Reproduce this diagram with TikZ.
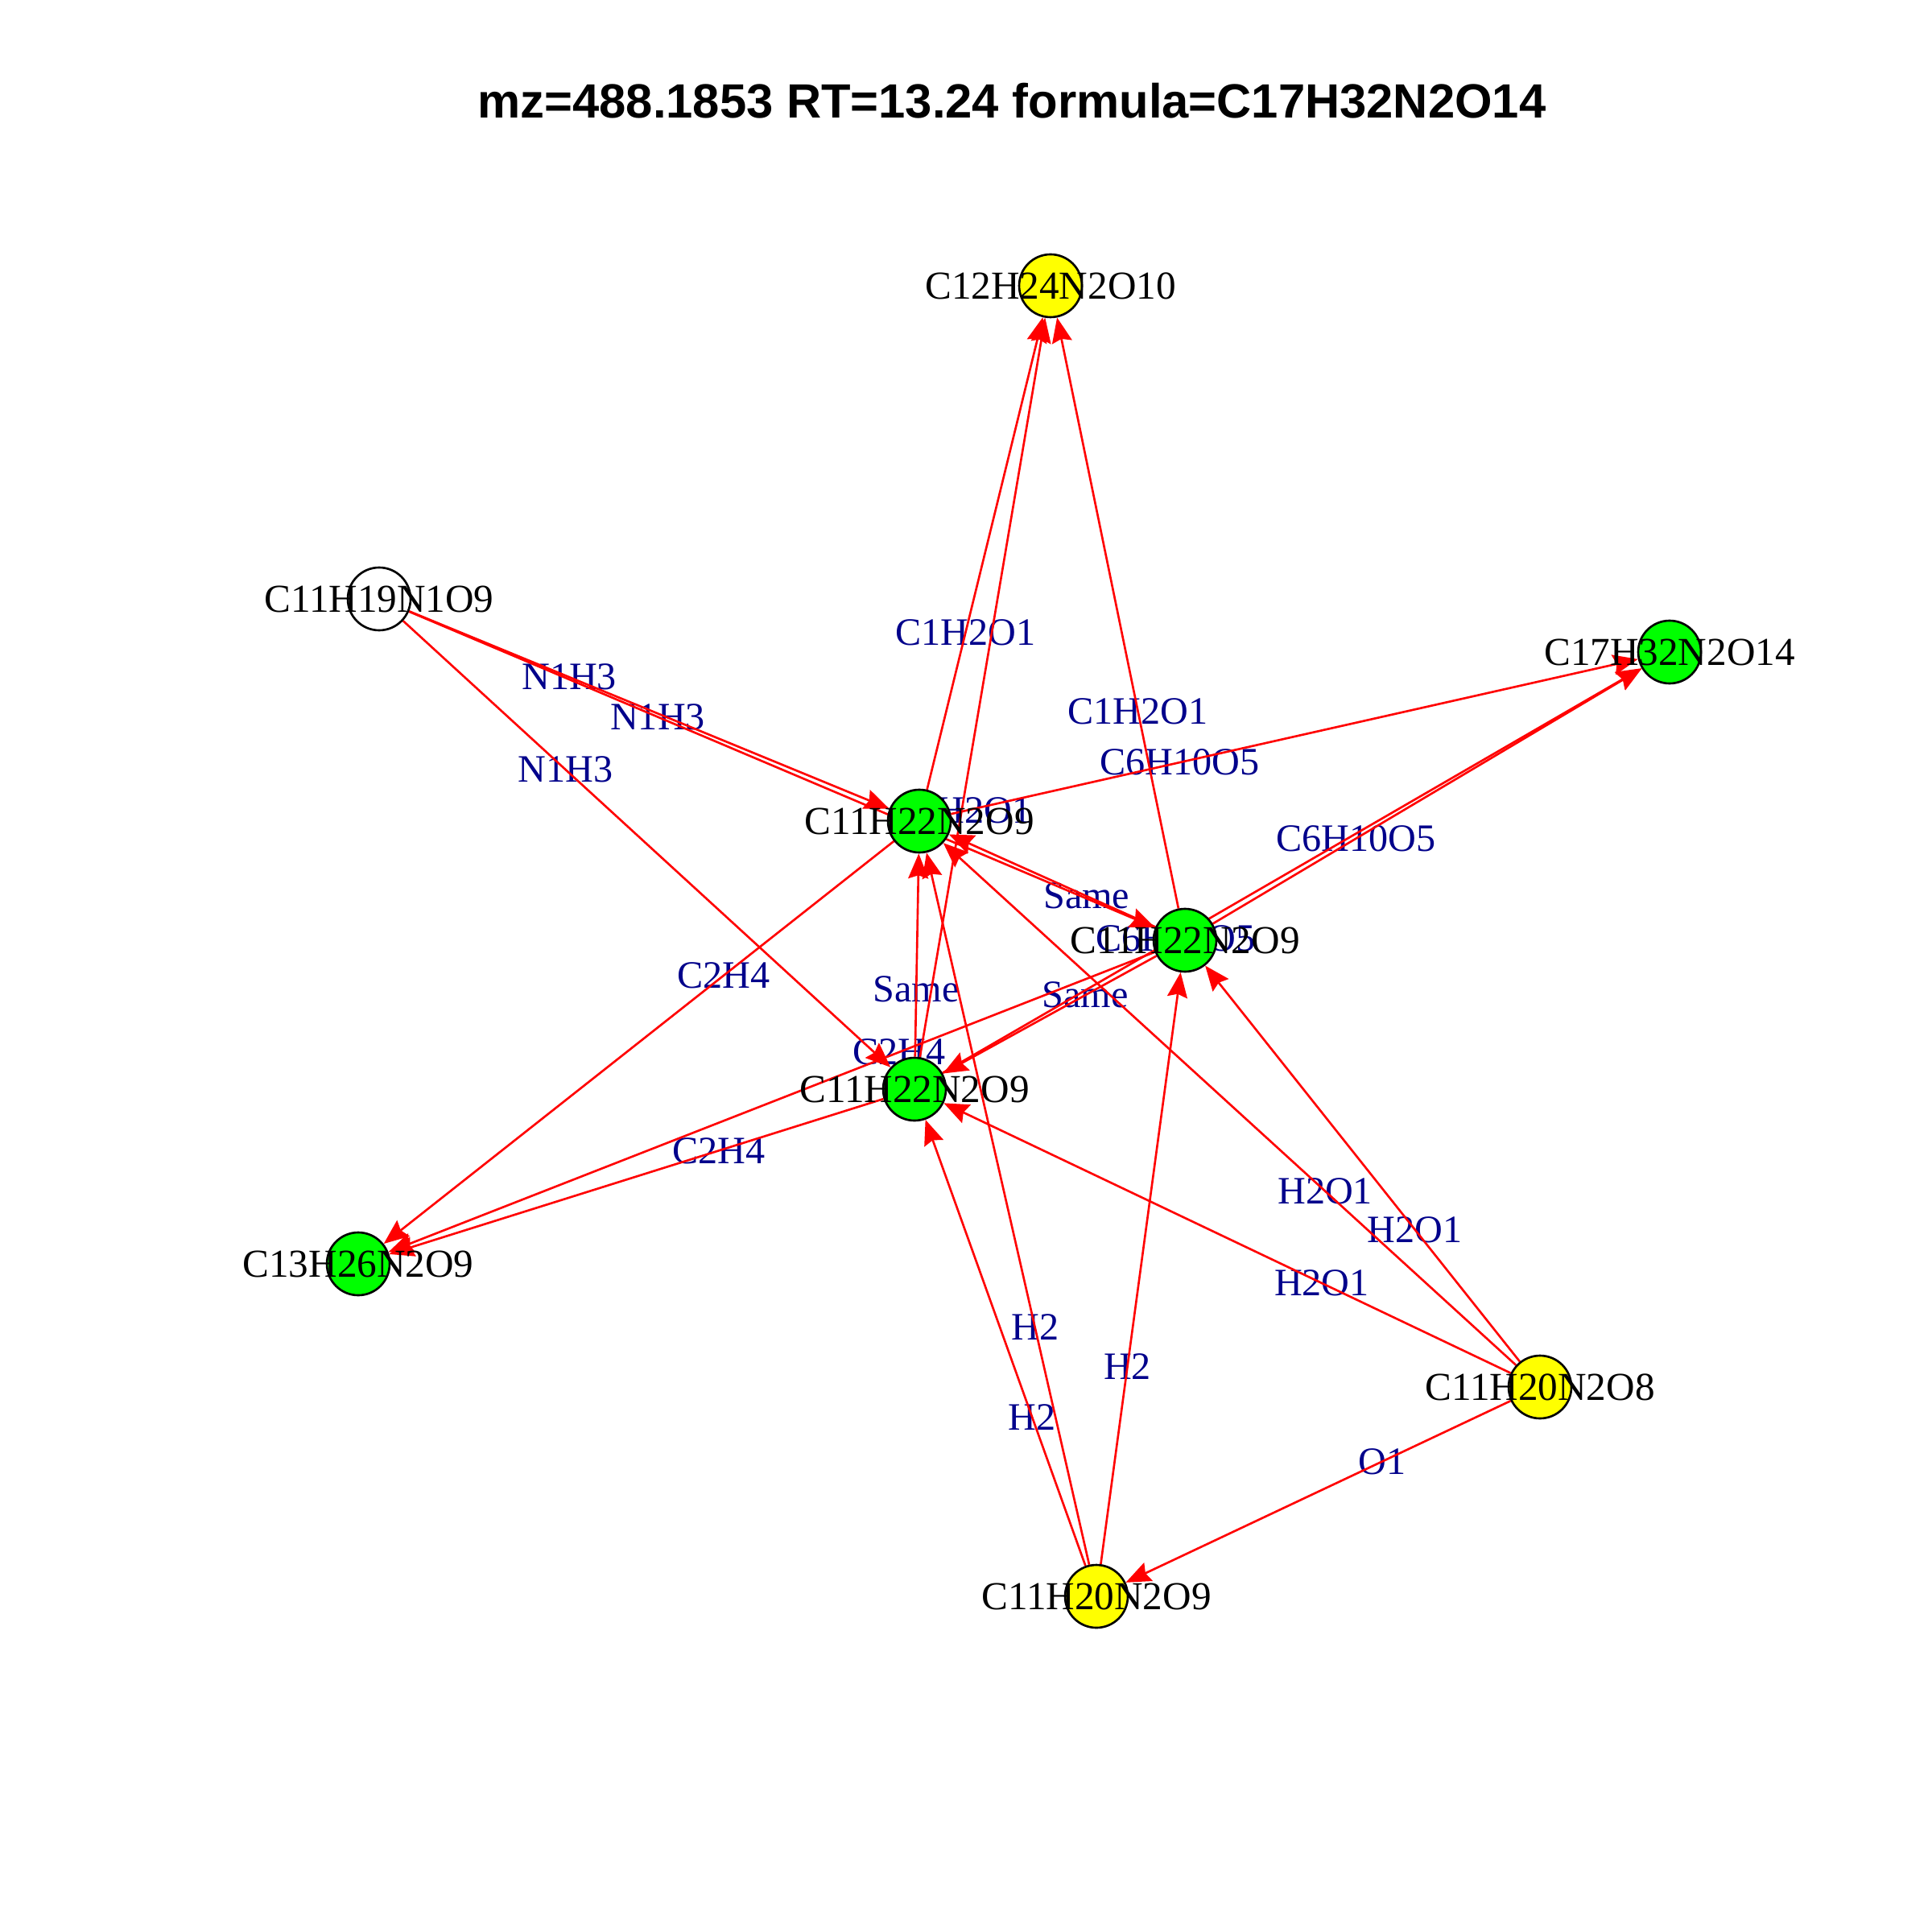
\documentclass[tikz,border=0pt]{standalone}
\usepackage{fontspec}
\setmainfont{Liberation Serif}
\newfontfamily\titlefont{Liberation Sans}
\usetikzlibrary{arrows.meta}
\definecolor{vgreen}{HTML}{00FF00}
\definecolor{vyellow}{HTML}{FFFF00}
\definecolor{ered}{HTML}{FF0000}
\definecolor{lblue}{HTML}{00008B}
\pgfdeclarelayer{paper}
\pgfdeclarelayer{bg}
\pgfdeclarelayer{fg}
\pgfdeclarelayer{top}
\pgfsetlayers{paper,bg,main,fg,top}
\tikzset{
  vtx/.style={circle, draw=black, line width=0.75pt, minimum size=0.78cm, inner sep=0pt},
  vlbl/.style={text=black, inner sep=0pt, font=\fontsize{14}{16}\selectfont},
  elbl/.style={text=lblue, inner sep=0pt, font=\fontsize{13.7}{16}\selectfont, pos=0.3333},
  edge/.style={draw=ered, line width=0.75pt, -{Stealth[length=0.31cm, width=0.25cm, inset=0.04cm]}},
}
\begin{document}
\begin{tikzpicture}
\useasboundingbox (0,0) rectangle (24,-24);
\begin{pgfonlayer}{paper}
\fill[white] (0,0) rectangle (24,-24);
\end{pgfonlayer}
\node[anchor=base, inner sep=0pt, font=\titlefont\bfseries\fontsize{17}{20}\selectfont] (title) at (12.57,-1.47) {mz=488.1853 RT=13.24 formula=C17H32N2O14};
\begin{pgfonlayer}{fg}
\node[vtx, fill=vyellow] (A) at (13.05,-3.55) {};
\node[vtx, fill=white]   (B) at (4.71,-7.44) {};
\node[vtx, fill=vgreen]  (C) at (20.74,-8.10) {};
\node[vtx, fill=vgreen]  (D) at (11.42,-10.20) {};
\node[vtx, fill=vgreen]  (E) at (14.72,-11.68) {};
\node[vtx, fill=vgreen]  (F) at (11.36,-13.53) {};
\node[vtx, fill=vgreen]  (G) at (4.45,-15.70) {};
\node[vtx, fill=vyellow] (H) at (19.13,-17.23) {};
\node[vtx, fill=vyellow] (I) at (13.62,-19.83) {};
\end{pgfonlayer}
\begin{pgfonlayer}{top}
\node[vlbl] (Al) at (A) {C12H24N2O10};
\node[vlbl] (Bl) at (B) {C11H19N1O9};
\node[vlbl] (Cl) at (C) {C17H32N2O14};
\node[vlbl] (Dl) at (D) {C11H22N2O9};
\node[vlbl] (El) at (E) {C11H22N2O9};
\node[vlbl] (Fl) at (F) {C11H22N2O9};
\node[vlbl] (Gl) at (G) {C13H26N2O9};
\node[vlbl] (Hl) at (H) {C11H20N2O8};
\node[vlbl] (Il) at (I) {C11H20N2O9};
\end{pgfonlayer}
\begin{pgfonlayer}{bg}
\foreach \s/\t/\l in {B/D/N1H3, B/E/N1H3, B/F/N1H3,
  D/A/C1H2O1, F/A/C1H2O1, E/A/C1H2O1,
  D/C/C6H10O5, E/C/C6H10O5, F/C/C6H10O5,
  D/G/C2H4, E/G/C2H4, F/G/C2H4,
  E/D/Same, F/D/Same, E/F/Same,
  I/D/H2, I/E/H2, I/F/H2,
  H/D/H2O1, H/E/H2O1, H/F/H2O1, H/I/O1}
  {\path (\s) -- node[elbl] {\l} (\t);}
\end{pgfonlayer}
\foreach \s/\t in {B/D, B/E, B/F, D/A, F/A, E/A, D/C, E/C, F/C,
  D/G, E/G, F/G, E/D, F/D, E/F, I/D, I/E, I/F, H/D, H/E, H/F, H/I}
  {\draw[edge] (\s) -- (\t);}
\end{tikzpicture}
\end{document}
